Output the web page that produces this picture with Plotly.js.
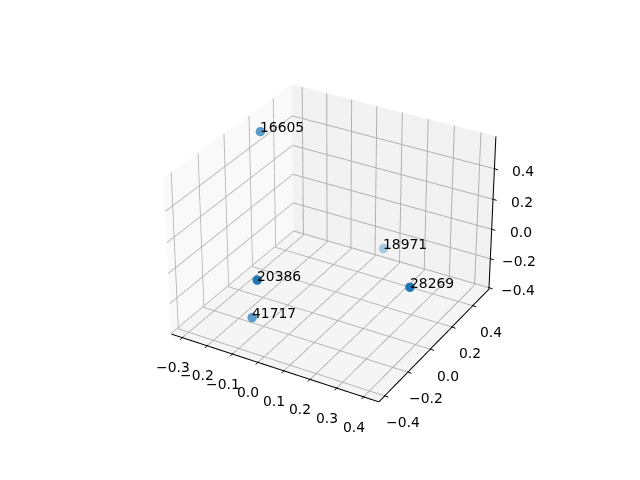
<!DOCTYPE html>
<html><head><meta charset="utf-8">
<script src="https://cdn.plot.ly/plotly-3.0.1.min.js"></script>
<style>html,body{margin:0;padding:0;background:#fff;overflow:hidden;width:640px;height:480px}
#wrap{position:relative;width:640px;height:480px;overflow:hidden}
#chart{position:absolute;left:-773px;top:-594px}</style></head>
<body><div id="wrap"><div id="chart"></div></div>
<script>
const labels=["16605","18971","20386","28269","41717"];
const xs=[-0.277,0.054,-0.027,0.396,-0.139];
const ys=[0.159,0.513,-0.388,-0.054,-0.213];
const zs=[0.56,-0.297,0.073,0.009,-0.36];
const colors=["#5b9bc9","#a5c9e1","#1f77b4","#1f77b4","#5b9bc9"];
const xticks=[-0.3,-0.2,-0.1,0,0.1,0.2,0.3,0.4];
const yticks=[-0.4,-0.2,0,0.2,0.4];
const zticks=[-0.4,-0.2,0,0.2,0.4];
const xr=[-0.342,0.46], yr=[-0.455,0.56], zr=[-0.41,0.61];
const fmt=v=>(v<0?"\u2212":"")+Math.abs(v).toFixed(1);
const font={family:"DejaVu Sans",size:13.9,color:"#000"};
const eps=0.003;
const lx=[],ly=[],lz=[];
function seg(a,b){lx.push(a[0],b[0],null);ly.push(a[1],b[1],null);lz.push(a[2],b[2],null);}
seg([xr[0],yr[0]+eps,zr[0]+eps],[xr[1]-eps,yr[0]+eps,zr[0]+eps]);
seg([xr[1]-eps,yr[0]+eps,zr[0]+eps],[xr[1]-eps,yr[1],zr[0]+eps]);
seg([xr[1]-eps,yr[1]-eps,zr[0]],[xr[1]-eps,yr[1]-eps,zr[1]]);
const ann=[];
function label(x,y,z,text,xanchor,xshift,yshift){ann.push({x,y,z,text,showarrow:false,xanchor,yanchor:"middle",xshift,yshift,font,borderpad:0,borderwidth:0});}
function tick(x,y,z,ax,ay){ann.push({x,y,z,text:" ",font:{size:1},showarrow:true,arrowhead:0,arrowwidth:1,arrowcolor:"#000",ax,ay,standoff:0,startstandoff:0,borderpad:0});}
labels.forEach((t,i)=>label(xs[i],ys[i],zs[i],t,"left",0,4));
xticks.forEach(v=>{tick(v,yr[0],zr[0],-2,2);tick(v,yr[0],zr[0],2,-2);label(v,yr[0],zr[0],fmt(v),"center",-9,-29);});
yticks.forEach(v=>{tick(xr[1],v,zr[0],3,1);tick(xr[1],v,zr[0],-2,-1);label(xr[1],v,zr[0],fmt(v),"center",17,-26);});
zticks.forEach(v=>{tick(xr[1],yr[1],v,3,1);tick(xr[1],yr[1],v,-2,-1);label(xr[1],yr[1],v,fmt(v),"center",28,-2);});
function ax(t,r,bg){return {range:r,tickvals:t,showticklabels:false,title:{text:""},showbackground:true,backgroundcolor:bg,gridcolor:"#b0b0b0",gridwidth:2,
 showline:false,ticks:"",zeroline:false,showspikes:false};}
Plotly.newPlot("chart",[
 {type:"scatter3d",mode:"lines",x:lx,y:ly,z:lz,line:{color:"#000",width:2},connectgaps:false,hoverinfo:"skip"},
 {type:"scatter3d",mode:"markers",x:xs,y:ys,z:zs,marker:{size:5.5,color:colors,line:{width:0}},hoverinfo:"skip"}],
 {width:2213,height:1660,margin:{l:0,r:0,t:0,b:0},paper_bgcolor:"#fff",showlegend:false,
 scene:{domain:{x:[0,1],y:[0,1]},aspectmode:"manual",aspectratio:{x:1,y:1,z:0.75},
 xaxis:ax(xticks,xr,"#f9f9f9"),yaxis:ax(yticks,yr,"#f2f2f2"),zaxis:ax(zticks,zr,"#f5f5f5"),annotations:ann,
 camera:{projection:{type:"perspective"},eye:{x:3.64,y:-6.3,z:4.2},center:{x:0,y:0,z:0},up:{x:0,y:0,z:1}}}},
 {displayModeBar:false});
</script></body></html>
